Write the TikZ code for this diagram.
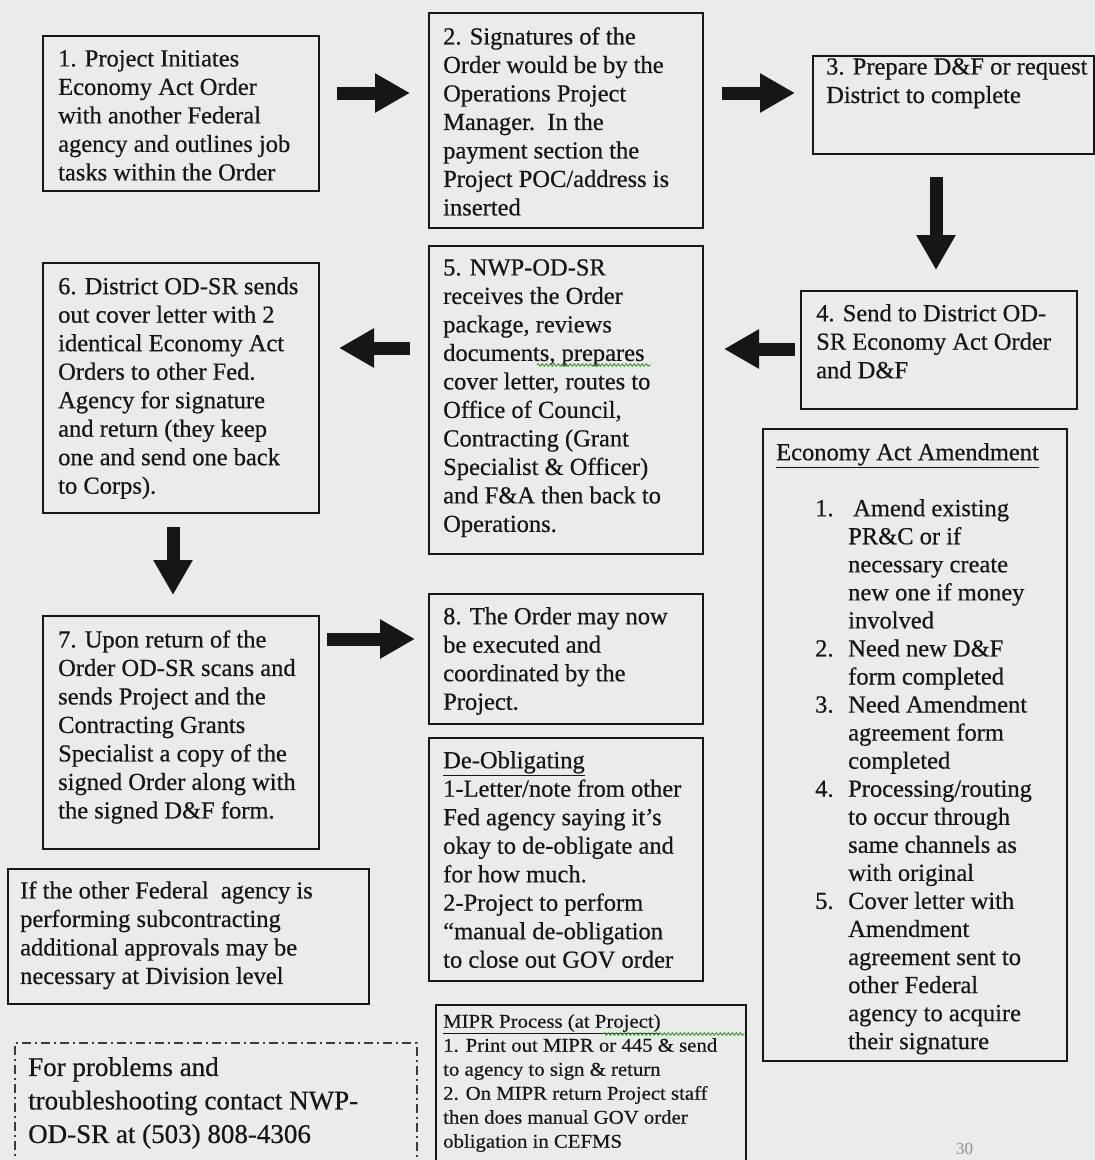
\documentclass[tikz,border=0pt]{standalone}
\usepackage{fontspec}
\setmainfont{Liberation Serif}
\newfontfamily\inkfont{Liberation Serif}[FakeBold=0.5]
\newfontfamily\miprfont{Liberation Serif}[FakeStretch=1.065,FakeBold=0.4]
\usetikzlibrary{arrows.meta,decorations.pathmorphing}
\definecolor{bgc}{RGB}{234,236,235}
\definecolor{ink}{RGB}{22,22,22}
\definecolor{dashc}{RGB}{60,60,60}
\definecolor{squig}{RGB}{60,150,40}
\newcommand\mainsz{\inkfont\fontsize{24.5}{28.5}\selectfont}
\newcommand\helpsz{\inkfont\fontsize{27}{33.5}\selectfont}
\newcommand\miprsz{\miprfont\fontsize{19.5}{24}\selectfont}
\newcommand\numit[1]{\llap{\makebox[33pt][l]{#1}}}
\begin{document}
\begin{tikzpicture}[x=1pt,y=1pt,
  box/.style={draw=ink, line width=2pt, inner sep=0pt, anchor=north west},
  txt/.style={inner sep=0pt, anchor=north west, align=left, font=\mainsz, text=ink},
  flow/.style={line width=13pt, draw=ink, -{Triangle[length=35pt,width=37pt]}},
  squiggle/.style={draw=squig, line width=0.9pt, decorate, decoration={snake, amplitude=1.3pt, segment length=4pt}}]
\useasboundingbox (0,0) rectangle (1095,-1160);
\clip (0,0) rectangle (1095,-1160);
\fill[bgc] (0,0) rectangle (1095,-1160);

% main boxes
\node[box, minimum width=276pt, minimum height=155pt] (b1) at (42,-35) {};
\node[box, minimum width=274pt, minimum height=215pt] (b2) at (428,-12) {};
\node[box, minimum width=281pt, minimum height=98pt]  (b3) at (812,-55) {};
\node[box, minimum width=276pt, minimum height=118pt] (b4) at (800,-290) {};
\node[box, minimum width=274pt, minimum height=308pt] (b5) at (428,-245) {};
\node[box, minimum width=276pt, minimum height=250pt] (b6) at (42,-262) {};
\node[box, minimum width=276pt, minimum height=233pt] (b7) at (42,-615) {};
\node[box, minimum width=274pt, minimum height=130pt] (b8) at (428,-593) {};
\node[box, minimum width=274pt, minimum height=243pt] (deob) at (428,-737) {};
\node[box, minimum width=304pt, minimum height=632pt] (amend) at (762,-428) {};
\node[box, minimum width=361pt, minimum height=135pt] (sub) at (7,-868) {};
\node[box, minimum width=310pt, minimum height=200pt] (mipr) at (435,-1004) {};
\node[box, draw=dashc, line width=1.5pt, dash pattern=on 9pt off 4pt on 2pt off 4pt,
      minimum width=402pt, minimum height=200pt] (help) at (14,-1042) {};

% texts
\node[txt] (t1) at ([shift={(16,-15)}]b1.north west)
  {1. Project Initiates\\Economy Act Order\\with another Federal\\agency and outlines job\\tasks within the Order};
\node[txt] (t2) at ([shift={(15,-15)}]b2.north west)
  {2. Signatures of the\\Order would be by the\\Operations Project\\Manager.\ \ In the\\payment section the\\Project POC/address is\\inserted};
\node[txt] (t3) at ([shift={(14,-3)}]b3.north west)
  {3. Prepare D\&F or request\\District to complete};
\node[txt] (t4) at ([shift={(16,-14)}]b4.north west)
  {4. Send to District OD-\\SR Economy Act Order\\and D\&F};
\node[txt] (t5) at ([shift={(15,-14)}]b5.north west)
  {5. NWP-OD-SR\\receives the Order\\package, reviews\\documents, prepares\\cover letter, routes to\\Office of Council,\\Contracting (Grant\\Specialist \& Officer)\\and F\&A then back to\\Operations.};
\node[txt] (t6) at ([shift={(16,-15)}]b6.north west)
  {6. District OD-SR sends\\out cover letter with 2\\identical Economy Act\\Orders to other Fed.\\Agency for signature\\and return (they keep\\one and send one back\\to Corps).};
\node[txt] (t7) at ([shift={(16,-15)}]b7.north west)
  {7. Upon return of the\\Order OD-SR scans and\\sends Project and the\\Contracting Grants\\Specialist a copy of the\\signed Order along with\\the signed D\&F form.};
\node[txt] (t8) at ([shift={(15,-14)}]b8.north west)
  {8. The Order may now\\be executed and\\coordinated by the\\Project.};
\node[txt] (tdeob) at ([shift={(15,-14)}]deob.north west)
  {\underline{De-Obligating}\\1-Letter/note from other\\Fed agency saying it’s\\okay to de-obligate and\\for how much.\\2-Project to perform\\“manual de-obligation\\to close out GOV order};
\node[txt] (tamt) at ([shift={(14,-15)}]amend.north west)
  {\underline{Economy Act Amendment}};
\node[txt, font=\inkfont\fontsize{24.5}{28.05}\selectfont] (tamend) at ([shift={(86,-71)}]amend.north west)
  {\numit{1.}\hspace{5pt}Amend existing\\PR\&C or if\\necessary create\\new one if money\\involved\\
   \numit{2.}Need new D\&F\\form completed\\
   \numit{3.}Need Amendment\\agreement form\\completed\\
   \numit{4.}Processing/routing\\to occur through\\same channels as\\with original\\
   \numit{5.}Cover letter with\\Amendment\\agreement sent to\\other Federal\\agency to acquire\\their signature};
\node[txt] (tsub) at ([shift={(13,-13)}]sub.north west)
  {If the other Federal\ \ agency is\\performing subcontracting\\additional approvals may be\\necessary at Division level};
\node[txt, font=\helpsz] (thelp) at ([shift={(14,-15)}]help.north west)
  {For problems and\\troubleshooting contact NWP-\\OD-SR at (503) 808-4306};
\node[txt, font=\miprsz] (tmipr) at ([shift={(8,-10)}]mipr.north west)
  {\underline{MIPR Process (at Project)}\\1. Print out MIPR or 445 \& send\\to agency to sign \& return\\2. On MIPR return Project staff\\then does manual GOV order\\obligation in CEFMS};
\node[inner sep=0pt, anchor=north west, text=black!45, font=\fontsize{17}{20}\selectfont] (pg) at (956,-1143) {30};

% spell-check squiggles
\draw[squiggle] ([shift={(94,-106)}]t5.north west) -- ([shift={(208,-106)}]t5.north west);
\draw[squiggle] ([shift={(160,-20)}]tmipr.north west) -- ([shift={(302,-20)}]tmipr.north west);

% flow arrows
\draw[flow] ([shift={(17,20.5)}]b1.east) -- ([shift={(-18,27.5)}]b2.west);
\draw[flow] ([shift={(18,27.5)}]b2.east) -- ([shift={(-17,12)}]b3.west);
\draw[flow] ([shift={(-17.5,-22)}]b3.south) -- ([shift={(-3,20)}]b4.north);
\draw[flow] ([shift={(-5,1)}]b4.west) -- ([shift={(20,51)}]b5.east);
\draw[flow] ([shift={(-18,52)}]b5.west) -- ([shift={(19,40)}]b6.east);
\draw[flow] ([shift={(-8,-13)}]b6.south) -- ([shift={(-8,20)}]b7.north);
\draw[flow] ([shift={(7,93.5)}]b7.east) -- ([shift={(-13,20)}]b8.west);
\end{tikzpicture}
\end{document}
